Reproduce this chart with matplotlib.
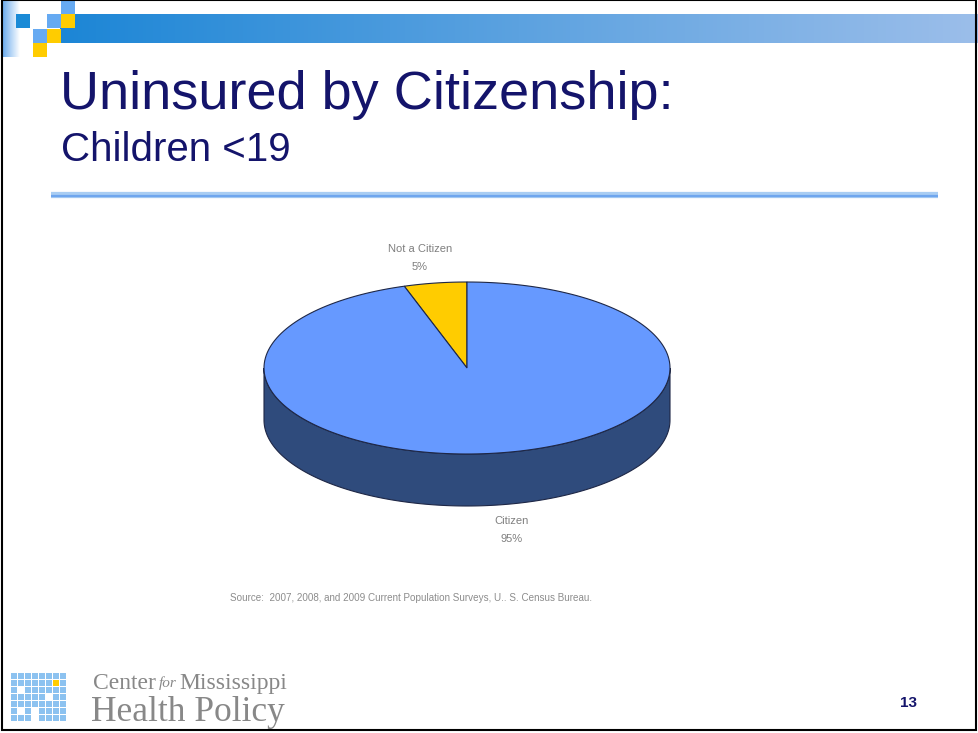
import matplotlib.pyplot as plt
import numpy as np
from matplotlib.patches import Polygon, Rectangle

TITLE = "Uninsured by Citizenship:"
SUBTITLE = "Children <19"
SLICE_LABELS = ["Not a Citizen", "Citizen"]
SLICE_VALUES = [5, 95]
SLICE_COLORS = ["#FFCC00", "#6699FF"]
SIDE_COLORS = ["#A88700", "#2F4B7C"]
SOURCE = "Source:  2007, 2008, and 2009 Current Population Surveys, U.. S. Census Bureau."
PAGE = "13"

NAVY = "#14146B"
W, H = 979, 733

# pie geometry in pixel units
CX, CY = 467, 368
RX, RY = 203, 86
DEPTH = 52
START = 90.0


def ellipse_pts(t0, t1, n=200):
    t = np.radians(np.linspace(t0, t1, n))
    return CX + RX * np.cos(t), CY - RY * np.sin(t)


def draw_header(ax):
    # gradient banner
    grad = np.linspace(0, 1, 256).reshape(1, -1)
    c0 = np.array([0x1C, 0x86, 0xD6]) / 255
    c1 = np.array([0x9C, 0xBE, 0xEA]) / 255
    img = c0 + (c1 - c0) * grad[..., None]
    ax.imshow(img, extent=[60, W, 43, 14], aspect="auto", zorder=1)
    left = np.linspace(0, 1, 64).reshape(1, -1)
    l0 = np.array([0x6F, 0xAE, 0xEE]) / 255
    l1 = np.array([1.0, 1.0, 1.0])
    img2 = l0 + (l1 - l0) * left[..., None]
    ax.imshow(img2, extent=[3, 20, 57, 0], aspect="auto", zorder=1)

    s = 14.3
    squares = [
        (16, 14, "#1A8AD6"),
        (47, 14, "#66AAF2"),
        (61, 0, "#66AAF2"),
        (61, 14, "#FFCC00"),
        (33, 29, "#66AAF2"),
        (47, 29, "#FFCC00"),
        (33, 43, "#FFCC00"),
    ]
    for x, y, c in squares:
        ax.add_patch(Rectangle((x, y), s, s, facecolor=c, edgecolor="none", zorder=2))


def draw_logo(ax):
    x0, y0, step, size = 11, 673, 7.0, 6.0
    special = {(6, 1): "#FFCC00", (1, 2): "white", (3, 5): "white", (1, 5): "white",
               (3, 6): "white", (5, 3): "white"}
    for r in range(7):
        for c in range(8):
            col = special.get((c, r), "#8CC2F0")
            ax.add_patch(Rectangle((x0 + c * step, y0 + r * step), size, size,
                                   facecolor=col, edgecolor="none", zorder=2))
    ax.text(93, 689, "Center", fontsize=17, family="Liberation Serif", color="#888888",
            va="baseline", ha="left")
    ax.text(159, 687, "for", fontsize=11, family="Liberation Serif", style="italic",
            color="#888888", va="baseline", ha="left")
    ax.text(179, 689, "Mississippi", fontsize=17, family="Liberation Serif", color="#888888",
            va="baseline", ha="left")
    ax.text(91, 721, "Health Policy", fontsize=25.5, family="Liberation Serif",
            color="#888888", va="baseline", ha="left")


def draw_pie(ax):
    total = sum(SLICE_VALUES)
    angle = START
    wedges = []
    for label, val, top, side in zip(SLICE_LABELS, SLICE_VALUES, SLICE_COLORS, SIDE_COLORS):
        span = 360.0 * val / total
        wedges.append((label, val, angle, angle + span, top, side))
        angle += span

    edge = "#1E2746"
    # side walls for the front half (180..360 deg)
    for label, val, a0, a1, top, side in wedges:
        for k in (0, 360):
            lo, hi = max(a0, 180 + k), min(a1, 360 + k)
            if hi > lo:
                xs, ys = ellipse_pts(lo, hi)
                pts = np.column_stack([np.r_[xs, xs[::-1]], np.r_[ys, ys[::-1] + DEPTH]])
                ax.add_patch(Polygon(pts, closed=True, facecolor=side, edgecolor=edge,
                                     linewidth=0.8, zorder=3))

    # top faces
    for label, val, a0, a1, top, side in wedges:
        xs, ys = ellipse_pts(a0, a1)
        pts = np.column_stack([np.r_[CX, xs], np.r_[CY, ys]])
        ax.add_patch(Polygon(pts, closed=True, facecolor=top, edgecolor=edge,
                             linewidth=0.8, zorder=4))

        mid = np.radians((a0 + a1) / 2)
        lx = CX + 1.1 * RX * np.cos(mid)
        ly = CY - 1.3 * RY * np.sin(mid)
        if np.sin(mid) < 0:
            lx += 10
            ly += DEPTH
        else:
            lx -= 12
        ax.text(lx, ly, f"{label}\n{val}%", ha="center", va="center", fontsize=8,
                family=["Liberation Sans Narrow", "Liberation Sans"], color="#7F7F7F",
                linespacing=2.0, zorder=5)


def main():
    fig = plt.figure(figsize=(W / 100, H / 100), dpi=100)
    ax = fig.add_axes([0, 0, 1, 1])
    ax.set_xlim(0, W)
    ax.set_ylim(H, 0)
    ax.axis("off")

    draw_header(ax)

    ax.text(60, 95, TITLE, fontsize=39, family="Liberation Sans", color=NAVY,
            ha="left", va="center")
    ax.text(61, 150, SUBTITLE, fontsize=29, family="Liberation Sans", color=NAVY,
            ha="left", va="center")

    # rule under the title
    ax.plot([51, 938], [195, 195], color="#A9CDF3", linewidth=4.5, solid_capstyle="butt")
    ax.plot([51, 938], [196, 196], color="#6FA6EE", linewidth=1.6, solid_capstyle="butt")

    draw_pie(ax)

    ax.text(230, 598, SOURCE, fontsize=7.1, family=["Liberation Sans Narrow", "Liberation Sans"],
            color="#8C8C8C", ha="left", va="center")

    draw_logo(ax)
    ax.text(909, 703, PAGE, fontsize=11, fontweight="bold", family="Liberation Sans",
            color=NAVY, ha="center", va="center")

    # slide frame
    ax.add_patch(Rectangle((2, 0), W - 4.5, H - 3, facecolor="none", edgecolor="black",
                           linewidth=1.5, zorder=10))

    fig.savefig("out.png", dpi=100)
    plt.close(fig)


if __name__ == "__main__":
    main()
